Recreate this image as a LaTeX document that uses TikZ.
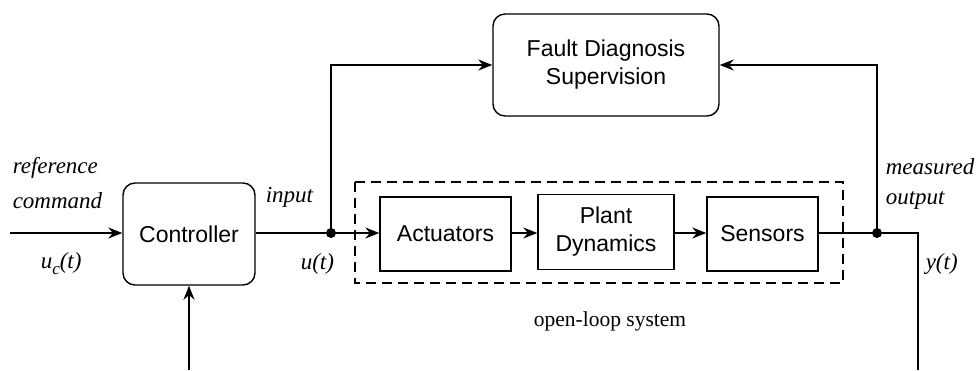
\documentclass[tikz,border=0pt]{standalone}
\usepackage{fontspec}
\setmainfont{Liberation Serif}
\setsansfont{Liberation Sans}
\usetikzlibrary{arrows.meta}
\begin{document}
\begin{tikzpicture}[x=1pt,y=-1pt,
  line width=1.5pt,
  arr/.style={-{Stealth[length=14pt,width=11pt]}},
  blk/.style={draw,line width=1.4pt,font=\sffamily\fontsize{23}{28}\selectfont,align=center,inner sep=0pt},
  rblk/.style={blk,rounded corners=12pt},
  lbl/.style={font=\itshape\fontsize{23}{27}\selectfont,inner sep=0pt},
  dot/.style={circle,fill,inner sep=0pt,minimum size=10pt}]
\useasboundingbox (0,0) rectangle (976,370);
% blocks
\node[rblk,minimum width=132pt,minimum height=102pt] (ctrl) at (189,234) {Controller};
\node[rblk,minimum width=226pt,minimum height=102pt] (fds) at (606,65) {Fault Diagnosis\\Supervision};
\node[blk,minimum width=131pt,minimum height=74pt] (act) at (445.5,234) {Actuators};
\node[blk,minimum width=136pt,minimum height=75pt] (plant) at (606,232) {Plant\\Dynamics};
\node[blk,minimum width=111pt,minimum height=74pt] (sens) at (762.5,234) {Sensors};
\draw[dashed,line width=1.3pt,dash pattern=on 10pt off 6pt] (355,182) rectangle (843,283);
% coordinates
\coordinate (in) at (10,233);
\coordinate (fb) at (189,370);
\node[dot] (j1) at (331,233) {};
\node[dot] (j2) at (877,233) {};
\coordinate (j1up) at (331,65);
\coordinate (j2up) at (877,65);
\coordinate (ycorner) at (918,233);
\coordinate (yend) at (918,370);
% connectors
\draw[arr] (in) -- (ctrl.west |- in);
\draw[arr] (fb) -- (ctrl.south);
\draw (ctrl.east |- j1) -- (j1.center);
\draw[arr] (j1.center) -- (act.west |- j1);
\draw[arr] (act.east |- j1) -- (plant.west |- j1);
\draw[arr] (plant.east |- j1) -- (sens.west |- j1);
\draw (sens.east |- j2) -- (j2.center) -- (ycorner) -- (yend);
\draw[arr] (j1.center) -- (j1up) -- (fds.west);
\draw[arr] (j2.center) -- (j2up) -- (fds.east);
% labels
\node[lbl,anchor=west] (l1) at (12,168) {reference};
\node[lbl,anchor=west] (l2) at (12,201) {command};
\node[lbl,anchor=west] (l3) at (40,264) {u\raisebox{-6pt}{\fontsize{17}{17}\selectfont c}(t)};
\node[lbl,anchor=west] (l4) at (265,197) {input};
\node[lbl,anchor=west] (l5) at (300,264) {u(t)};
\node[lbl,anchor=west] (l6) at (885,167) {measured};
\node[lbl,anchor=west] (l7) at (885,200) {output};
\node[lbl,anchor=west] (l8) at (925,264) {y(t)};
\node[font=\fontsize{21.5}{25}\selectfont,inner sep=0pt] (ol) at (610,321) {open-loop system};
\end{tikzpicture}
\end{document}
